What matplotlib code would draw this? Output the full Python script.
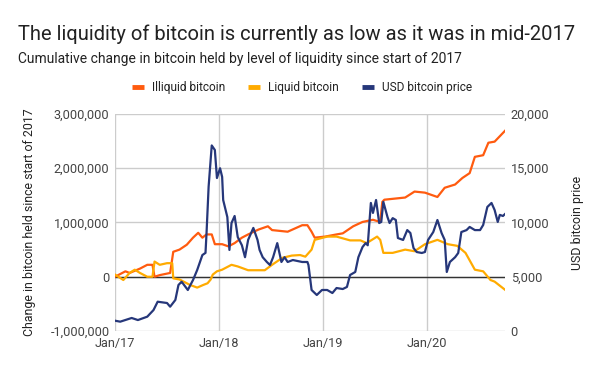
import matplotlib
matplotlib.use('Agg')
import matplotlib.pyplot as plt
from matplotlib.lines import Line2D

plt.rcParams['font.family'] = ['Roboto', 'DejaVu Sans']

# dates as decimal years (bitcoin in millions, price in USD)
illiquid_t = [2017.0, 2017.10, 2017.14, 2017.24, 2017.31, 2017.36, 2017.38, 2017.43, 2017.53, 2017.56,
              2017.62, 2017.69, 2017.75, 2017.80, 2017.84, 2017.88, 2017.93, 2017.96, 2018.03, 2018.09,
              2018.15, 2018.22, 2018.28, 2018.38, 2018.47, 2018.51, 2018.66, 2018.80, 2018.85, 2018.89,
              2018.92, 2019.02, 2019.13, 2019.19, 2019.29, 2019.38, 2019.48, 2019.55, 2019.57, 2019.59,
              2019.69, 2019.79, 2019.88, 2019.98, 2020.10, 2020.17, 2020.27, 2020.34, 2020.41, 2020.46,
              2020.54, 2020.59, 2020.65, 2020.75]
illiquid_v = [0.0, 0.1, 0.07, 0.15, 0.22, 0.22, 0.0, 0.03, 0.07, 0.46,
              0.5, 0.59, 0.72, 0.81, 0.72, 0.78, 0.78, 0.6, 0.6, 0.56,
              0.62, 0.72, 0.78, 0.87, 0.93, 0.86, 0.83, 0.95, 0.95, 0.83,
              0.72, 0.74, 0.78, 0.8, 0.93, 1.01, 1.05, 1.01, 1.38, 1.42,
              1.44, 1.46, 1.57, 1.55, 1.47, 1.64, 1.7, 1.82, 1.91, 2.21,
              2.24, 2.47, 2.49, 2.69]

liquid_t = [2017.0, 2017.08, 2017.14, 2017.19, 2017.24, 2017.31, 2017.36, 2017.38, 2017.43, 2017.50,
            2017.55, 2017.56, 2017.62, 2017.72, 2017.79, 2017.85, 2017.89, 2017.92, 2017.94, 2017.98,
            2018.03, 2018.12, 2018.18, 2018.28, 2018.44, 2018.51, 2018.61, 2018.70, 2018.78, 2018.83,
            2018.89, 2018.92, 2019.04, 2019.13, 2019.26, 2019.36, 2019.42, 2019.52, 2019.55, 2019.58,
            2019.67, 2019.79, 2019.88, 2019.98, 2020.10, 2020.20, 2020.29, 2020.37, 2020.46, 2020.54,
            2020.61, 2020.65, 2020.75]
liquid_v = [0.04, -0.06, 0.07, 0.13, 0.07, 0.0, 0.0, 0.28, 0.22, 0.25,
            0.25, -0.03, -0.05, -0.15, -0.2, -0.15, -0.12, -0.05, 0.04, 0.1,
            0.13, 0.22, 0.19, 0.12, 0.12, 0.22, 0.35, 0.39, 0.4, 0.37,
            0.5, 0.68, 0.74, 0.74, 0.67, 0.67, 0.62, 0.74, 0.68, 0.44,
            0.44, 0.5, 0.47, 0.6, 0.68, 0.6, 0.57, 0.44, 0.13, 0.1,
            -0.06, -0.09, -0.24]

price_t = [2017.0, 2017.05, 2017.16, 2017.22, 2017.31, 2017.37, 2017.41, 2017.50, 2017.53, 2017.58,
           2017.61, 2017.64, 2017.65, 2017.70, 2017.75, 2017.79, 2017.84, 2017.87, 2017.88, 2017.90,
           2017.93, 2017.96, 2017.98, 2018.01, 2018.03, 2018.04, 2018.08, 2018.10, 2018.12, 2018.15,
           2018.18, 2018.22, 2018.25, 2018.28, 2018.33, 2018.37, 2018.39, 2018.42, 2018.46, 2018.49,
           2018.52, 2018.56, 2018.60, 2018.63, 2018.66, 2018.71, 2018.80, 2018.85, 2018.86, 2018.89,
           2018.94, 2018.99, 2019.04, 2019.09, 2019.13, 2019.19, 2019.23, 2019.26, 2019.31, 2019.34,
           2019.38, 2019.41, 2019.43, 2019.46, 2019.48, 2019.51, 2019.54, 2019.56, 2019.58, 2019.62,
           2019.64, 2019.67, 2019.70, 2019.72, 2019.77, 2019.81, 2019.84, 2019.87, 2019.90, 2019.95,
           2019.98, 2020.01, 2020.06, 2020.10, 2020.14, 2020.17, 2020.19, 2020.22, 2020.27, 2020.30,
           2020.33, 2020.38, 2020.41, 2020.46, 2020.51, 2020.54, 2020.58, 2020.62, 2020.65, 2020.68,
           2020.70, 2020.73, 2020.75]
price_v = [950, 860, 1200, 1010, 1320, 1930, 2700, 2580, 2240, 2860,
           4240, 4540, 4420, 3780, 4700, 5620, 7000, 7200, 9030, 13300,
           17100, 16680, 14100, 15000, 14200, 12070, 10500, 7470, 9950, 10600,
           8660, 7900, 6800, 8400, 9500, 8400, 7470, 6800, 6360, 6080,
           6800, 8100, 6360, 6800, 6360, 6540, 6360, 6360, 6080, 3780,
           3320, 3780, 3780, 3500, 3960, 3870, 4060, 5160, 5440, 6800,
           7740, 8100, 7900, 11800, 10880, 12070, 9950, 10050, 11900, 10500,
           9950, 10400, 10230, 8570, 8390, 9300, 9030, 7650, 7280, 7190,
           7280, 8390, 9120, 10230, 9030, 8390, 5440, 6360, 6800, 7190,
           9120, 9300, 9590, 9300, 9300, 9770, 11430, 11800, 11150, 10050,
           10700, 10600, 10780]

year_ticks = [2017, 2018, 2019, 2020]
year_labels = ['Jan/17', 'Jan/18', 'Jan/19', 'Jan/20']
left_ticks = [-1e6, 0, 1e6, 2e6, 3e6]
left_labels = ['-1,000,000', '0', '1,000,000', '2,000,000', '3,000,000']
right_ticks = [0, 5000, 10000, 15000, 20000]
right_labels = ['0', '5,000', '10,000', '15,000', '20,000']

c_illiquid = '#ff5b0f'
c_liquid = '#ffab00'
c_price = '#26377a'
grid_c = '#cccccc'
text_c = '#444444'

fig = plt.figure(figsize=(6, 3.71), dpi=100)
ax = fig.add_axes([0.1917, 0.1078, 0.65, 0.585])
ax2 = ax.twinx()

ax.plot(illiquid_t, [v * 1e6 for v in illiquid_v], color=c_illiquid, lw=1.6, zorder=3)
ax.plot(liquid_t, [v * 1e6 for v in liquid_v], color=c_liquid, lw=1.6, zorder=3)
ax2.plot(price_t, price_v, color=c_price, lw=1.6, zorder=4)

ax.set_xlim(2017.0, 2020.75)
ax.set_ylim(-1e6, 3e6)
ax2.set_ylim(0, 20000)
ax.set_yticks(left_ticks)
ax.set_yticklabels(left_labels)
ax2.set_yticks(right_ticks)
ax2.set_yticklabels(right_labels)
ax.set_xticks(year_ticks)
ax.set_xticklabels(year_labels)

ax.grid(True, color=grid_c, lw=1)
ax.axhline(0, color='#333333', lw=1, zorder=2)
for a in (ax, ax2):
    for s in a.spines.values():
        s.set_visible(False)
    a.tick_params(length=0, labelsize=9.2, labelcolor=text_c, pad=4)
ax.set_axisbelow(True)

ax.set_ylabel('Change in bitcoin held since start of 2017', fontsize=8.9, color='#222222', labelpad=10)
ax2.set_ylabel('USD bitcoin price', fontsize=8.9, color='#222222', labelpad=16)

fig.text(0.03, 0.908, 'The liquidity of bitcoin is currently as low as it was in mid-2017',
         fontsize=14.5, color='#222222', va='center')
fig.text(0.03, 0.842, 'Cumulative change in bitcoin held by level of liquidity since start of 2017',
         fontsize=10, color='#222222', va='center')

handles = [Line2D([], [], color=c, lw=3.5, solid_capstyle='butt') for c in (c_illiquid, c_liquid, c_price)]
fig.legend(handles, ['Illiquid bitcoin', 'Liquid bitcoin', 'USD bitcoin price'],
           loc='center', bbox_to_anchor=(0.503, 0.765), ncol=3, frameon=False,
           fontsize=8.6, handlelength=1.0, handletextpad=0.7, columnspacing=1.9,
           labelcolor='#222222')

fig.savefig('out.png', dpi=100)
